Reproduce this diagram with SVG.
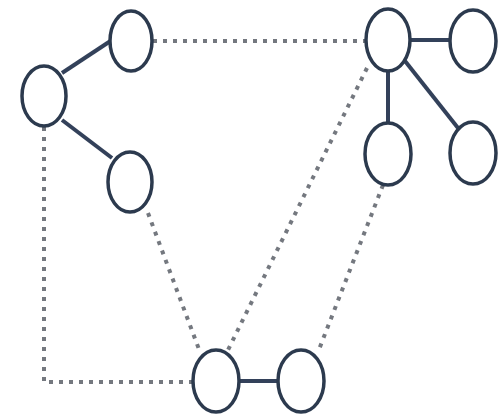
<svg xmlns="http://www.w3.org/2000/svg" width="500" height="415" viewBox="0 0 500 415">
<style>
.n{fill:#ffffff;stroke:#2c3a4e;stroke-width:3.5}
.s{stroke:#33415a;stroke-width:4;fill:none}
.d{stroke:#74787f;stroke-width:4;fill:none;stroke-dasharray:4 6}
</style>
<rect width="500" height="415" fill="#ffffff"/>
<g id="connectors">
<path class="d" d="M153 41 H365"/>
<path class="d" d="M44 127 V382 H193"/>
<path class="d" d="M148 213 L200 352"/>
<path class="d" d="M367 68 L227 352"/>
<path class="d" d="M383 185 L318 352"/>
<path class="s" d="M62 73 L112 40"/>
<path class="s" d="M62 120 L112 158"/>
<path class="s" d="M410 40 H450"/>
<path class="s" d="M388 71 V123"/>
<path class="s" d="M405 61 L458 128"/>
<path class="s" d="M239 381 H278"/>
</g>
<g id="nA"><ellipse class="n" cx="131" cy="41" rx="21" ry="30"/></g>
<g id="nB"><ellipse class="n" cx="44" cy="96" rx="22" ry="30"/></g>
<g id="nC"><ellipse class="n" cx="130" cy="182" rx="22" ry="30"/></g>
<g id="nD"><ellipse class="n" cx="388" cy="40" rx="22" ry="31"/></g>
<g id="nE"><ellipse class="n" cx="473" cy="41" rx="23" ry="31"/></g>
<g id="nF"><ellipse class="n" cx="388" cy="154" rx="23" ry="31"/></g>
<g id="nG"><ellipse class="n" cx="473" cy="153" rx="23" ry="31"/></g>
<g id="nH"><ellipse class="n" cx="216" cy="381" rx="23" ry="31"/></g>
<g id="nI"><ellipse class="n" cx="301" cy="381" rx="23" ry="31"/></g>
</svg>
